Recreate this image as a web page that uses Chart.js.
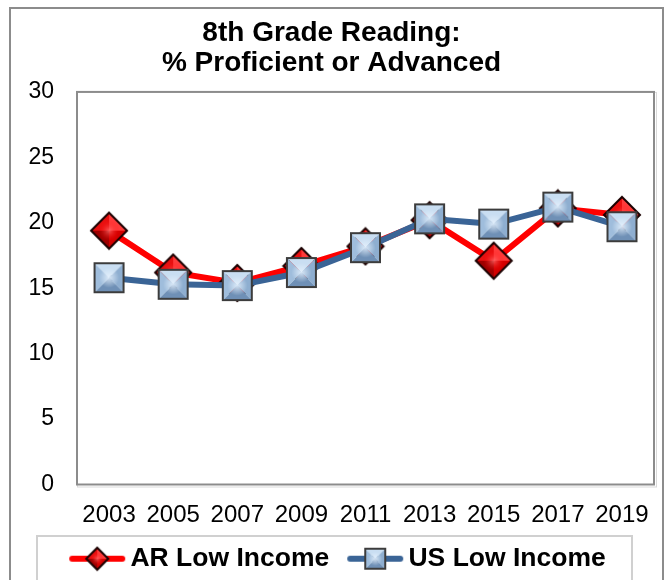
<!DOCTYPE html>
<html>
<head>
<meta charset="utf-8">
<script src="https://cdn.jsdelivr.net/npm/chart.js@4"></script>
<style>
  html, body { margin: 0; padding: 0; background: #fff; }
  #wrap { width: 664px; height: 580px; }
</style>
</head>
<body>
<div id="wrap"><canvas id="grafico"></canvas></div>
<script>
// datos de lectura 8vo grado
const years = ["2003", "2005", "2007", "2009", "2011", "2013", "2015", "2017", "2019"];
const arLowIncome = [19.4, 16.2, 15.4, 16.7, 18.2, 20.2, 17.1, 21.1, 20.6];
const usLowIncome = [15.8, 15.3, 15.2, 16.2, 18.1, 20.3, 19.9, 21.2, 19.7];
const yTicks = [0, 5, 10, 15, 20, 25, 30];

const FONT = "'Liberation Sans', Arial, sans-serif";

// rombo rojo con efecto piramide
function diamante(r) {
  const s = Math.ceil(r * 2 + 4), c = s / 2;
  const cv = document.createElement('canvas');
  cv.width = s; cv.height = s;
  const g = cv.getContext('2d');
  const pts = [[c, c - r], [c + r, c], [c, c + r], [c - r, c]];
  const caras = ['#ff3b3b', '#d40000', '#9e0000', '#e81010'];
  for (let i = 0; i < 4; i++) {
    const a = pts[i], b = pts[(i + 1) % 4];
    g.beginPath(); g.moveTo(c, c); g.lineTo(a[0], a[1]); g.lineTo(b[0], b[1]); g.closePath();
    g.fillStyle = caras[i]; g.fill();
  }
  const rg = g.createRadialGradient(c, c, 0, c, c, r * 0.6);
  rg.addColorStop(0, 'rgba(255,120,120,0.7)');
  rg.addColorStop(1, 'rgba(255,0,0,0)');
  g.fillStyle = rg;
  g.beginPath(); pts.forEach((p, i) => i ? g.lineTo(p[0], p[1]) : g.moveTo(p[0], p[1])); g.closePath(); g.fill();
  g.lineWidth = 2; g.strokeStyle = '#1a0000'; g.lineJoin = 'miter';
  g.stroke();
  return cv;
}

// cuadrado azul con efecto piramide
function cuadro(h) {
  const s = Math.ceil(h * 2 + 4), c = s / 2;
  const cv = document.createElement('canvas');
  cv.width = s; cv.height = s;
  const g = cv.getContext('2d');
  const pts = [[c - h, c - h], [c + h, c - h], [c + h, c + h], [c - h, c + h]];
  const caras = ['#c9def2', '#8eaed0', '#6f90b6', '#9fbddc'];
  for (let i = 0; i < 4; i++) {
    const a = pts[i], b = pts[(i + 1) % 4];
    g.beginPath(); g.moveTo(c, c); g.lineTo(a[0], a[1]); g.lineTo(b[0], b[1]); g.closePath();
    g.fillStyle = caras[i]; g.fill();
  }
  const rg = g.createRadialGradient(c, c, 0, c, c, h * 0.7);
  rg.addColorStop(0, 'rgba(235,245,255,0.8)');
  rg.addColorStop(1, 'rgba(235,245,255,0)');
  g.fillStyle = rg;
  g.fillRect(c - h, c - h, 2 * h, 2 * h);
  g.lineWidth = 2; g.strokeStyle = '#3c3c3c';
  g.strokeRect(c - h, c - h, 2 * h, 2 * h);
  return cv;
}

// icono de leyenda: linea + marcador, pegado al lado derecho
function iconoLeyenda(color, marca) {
  const cv = document.createElement('canvas');
  cv.width = 78; cv.height = 26;
  const g = cv.getContext('2d');
  g.strokeStyle = color; g.lineWidth = 6; g.lineCap = 'round';
  g.beginPath(); g.moveTo(24, 13); g.lineTo(74, 13); g.stroke();
  g.drawImage(marca, 49 - marca.width / 2, 13 - marca.height / 2);
  return cv;
}

const marcaAR = diamante(18);
const marcaUS = cuadro(14.5);
const leyAR = iconoLeyenda('#ff0000', diamante(11));
const leyUS = iconoLeyenda('#3a6496', cuadro(10));

// marcos: area del grafico, leyenda y borde exterior
const marcos = {
  id: 'marcos',
  beforeDatasetsDraw(chart) {
    const a = chart.chartArea, ctx = chart.ctx;
    ctx.save();
    ctx.strokeStyle = '#d9d9d9'; ctx.lineWidth = 1;
    ctx.strokeRect(a.left + 0.5, a.top + 0.5, a.right - a.left + 2, a.bottom - a.top + 2);
    ctx.strokeStyle = '#8c8c8c'; ctx.lineWidth = 2;
    ctx.strokeRect(a.left, a.top, a.right - a.left, a.bottom - a.top);
    ctx.restore();
  },
  afterDraw(chart) {
    const ctx = chart.ctx;
    ctx.save();
    ctx.strokeStyle = '#8c8c8c'; ctx.lineWidth = 2;
    ctx.strokeRect(10, 8, 653, 600);
    ctx.strokeStyle = '#d0d0d0'; ctx.lineWidth = 2;
    ctx.strokeRect(37, 536, 595, 80);
    ctx.restore();
  }
};

new Chart(document.getElementById('grafico'), {
  type: 'line',
  data: {
    labels: years,
    datasets: [
      {
        label: 'AR Low Income',
        data: arLowIncome,
        borderColor: '#ff0000',
        borderWidth: 6,
        pointStyle: marcaAR,
        order: 2
      },
      {
        label: 'US Low Income',
        data: usLowIncome,
        borderColor: '#3a6496',
        borderWidth: 6,
        pointStyle: marcaUS,
        order: 1
      }
    ]
  },
  options: {
    responsive: true,
    maintainAspectRatio: false,
    animation: false,
    layout: { padding: { left: 6, right: 7, top: 8, bottom: -2 } },
    plugins: {
      title: {
        display: true,
        text: ['8th Grade Reading:', '% Proficient or Advanced'],
        color: '#000',
        font: { family: FONT, size: 28, weight: 'bold', lineHeight: 1.07 },
        padding: { top: 10, bottom: 14 }
      },
      legend: {
        position: 'bottom',
        labels: {
          usePointStyle: true,
          pointStyleWidth: 60,
          color: '#000',
          padding: 6,
          font: { family: FONT, size: 26.5, weight: 'bold' },
          generateLabels(chart) {
            return chart.data.datasets.map((ds, i) => ({
              text: ds.label,
              pointStyle: i === 0 ? leyAR : leyUS,
              fillStyle: ds.borderColor,
              strokeStyle: ds.borderColor,
              lineWidth: 0,
              hidden: false,
              datasetIndex: i
            }));
          }
        }
      },
      tooltip: { enabled: false }
    },
    scales: {
      x: {
        offset: true,
        grid: { display: false, drawTicks: false },
        border: { display: false },
        ticks: { color: '#000', padding: 16, font: { family: FONT, size: 24 } },
        afterFit(scale) {
          scale.height = 55;
          scale.paddingLeft = 0;
          scale.paddingRight = 0;
        }
      },
      y: {
        min: 0,
        max: 30,
        afterBuildTicks(scale) { scale.ticks = yTicks.map(v => ({ value: v })); },
        grid: { display: false, drawTicks: false },
        border: { display: false },
        ticks: { color: '#000', padding: 23, font: { family: FONT, size: 23 } },
        afterFit(scale) { scale.width = 71; }
      }
    }
  },
  plugins: [marcos]
});
</script>
</body>
</html>
